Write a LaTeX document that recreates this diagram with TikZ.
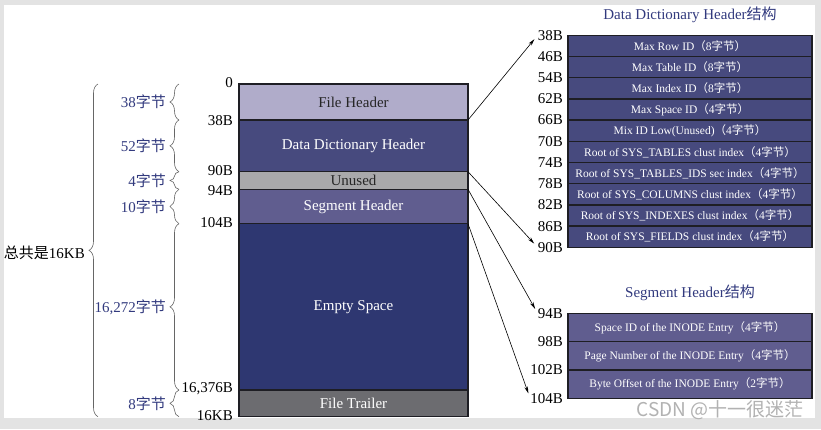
\documentclass[tikz,border=0pt]{standalone}
\usepackage{fontspec}
\setmainfont{Liberation Serif}
\newfontfamily\cjk{Noto Sans CJK SC}
\usetikzlibrary{positioning,arrows.meta,decorations.pathreplacing}

\definecolor{fhcol}{HTML}{B0ACCA}
\definecolor{ddcol}{HTML}{474A7E}
\definecolor{uncol}{HTML}{A9A9AB}
\definecolor{sgcol}{HTML}{605D8F}
\definecolor{escol}{HTML}{2E3771}
\definecolor{ftcol}{HTML}{6C6C70}
\definecolor{txtblue}{HTML}{323A7E}
\definecolor{edgecol}{HTML}{1E1E24}

% (n字节)
\newcommand\zj[1]{{\cjk （}#1{\cjk 字节）}}

\begin{document}
\begin{tikzpicture}[x=1pt,y=-1pt,
    blk/.style={draw=edgecol,line width=1.3pt,minimum width=229pt,inner sep=0pt,outer sep=0pt,font=\fontsize{15}{18}\selectfont},
    row/.style={draw=edgecol,line width=1.3pt,minimum width=244pt,inner sep=0pt,outer sep=0pt,text=white,anchor=north west,font=\fontsize{11.5}{14}\selectfont},
    offs/.style={anchor=east,inner sep=0pt,font=\fontsize{15}{18}\selectfont},
    cnt/.style={anchor=east,inner sep=0pt,text=txtblue,font=\fontsize{15}{18}\selectfont},
    ttl/.style={inner sep=0pt,text=txtblue,font=\fontsize{15}{18}\selectfont},
    brc/.style={decorate,decoration={brace,amplitude=9pt},draw=gray!80!black,line width=0.6pt},
    ptr/.style={-{Stealth[length=7pt,width=3.5pt]},line width=0.6pt,shorten >=5pt}]
    \useasboundingbox (0,0) rectangle (821,429);
    % Rahmen
    \fill[gray!22] (0,0) rectangle (821,429);
    \fill[white] (4,5) rectangle (815,418);

    % Seite (16KB)
    \node[blk,fill=fhcol,text=black!85,minimum height=36pt,anchor=north west] (fh) at (239,84) {File Header};
    \node[blk,fill=ddcol,text=white,minimum height=51.7pt,below=0pt of fh] (dd) {Data Dictionary Header};
    \node[blk,fill=uncol,text=black!85,minimum height=17.6pt,below=0pt of dd] (un) {Unused};
    \node[blk,fill=sgcol,text=white,minimum height=34.4pt,below=0pt of un] (sg) {Segment Header};
    \node[blk,fill=escol,text=white,minimum height=166.3pt,below=0pt of sg] (es) {Empty Space};
    \node[blk,fill=ftcol,text=white,minimum height=26.7pt,below=0pt of es] (ft) {File Trailer};

    % Offsets
    \node[offs] (o0) at (233,83) {0};
    \node[offs] (o38) at (233,120.5) {38B};
    \node[offs] (o90) at (233,170.7) {90B};
    \node[offs] (o94) at (233,190.5) {94B};
    \node[offs] (o104) at (233,222.7) {104B};
    \node[offs] (o16376) at (233,389) {16,376B};
    \node[offs] (o16k) at (233,416) {16KB};

    % Klammern
    \foreach \ya/\yb/\n [count=\k] in {84/120/38, 120/171.7/52, 171.7/189.3/4, 189.3/223.7/10, 223.7/390/{16,272}, 390/416.7/8} {
        \draw[brc] (179,\yb) -- (179,\ya);
        \node[cnt] (bl\k) at (166,{(\ya+\yb)/2}) {\n{\cjk 字节}};
    }
    \draw[brc] (98,416.7) -- (98,84);
    \node[offs] (tot) at (85,252.7) {{\cjk 总共是}16KB};

    % Data Dictionary Header
    \node[ttl] (ddt) at (690,15) {Data Dictionary Header{\cjk 结构}};
    \foreach \t [count=\i from 0] in {{Max Row ID\zj{8}}, {Max Table ID\zj{8}}, {Max Index ID\zj{8}}, {Max Space ID\zj{4}}, {Mix ID Low(Unused)\zj{4}}, {Root of SYS\_TABLES clust index\zj{4}}, {Root of SYS\_TABLES\_IDS sec index\zj{4}}, {Root of SYS\_COLUMNS clust index\zj{4}}, {Root of SYS\_INDEXES clust index\zj{4}}, {Root of SYS\_FIELDS clust index\zj{4}}}
        \node[row,fill=ddcol,minimum height=21.2pt] (ddr\i) at (568,{35.3+21.2*\i}) {\t};
    \foreach \t [count=\i from 0] in {38B,46B,54B,62B,66B,70B,74B,78B,82B,86B,90B}
        \node[offs] (ddl\i) at (563,{35.3+21.2*\i}) {\t};

    % Segment Header
    \node[ttl] (sgt) at (690,292.7) {Segment Header{\cjk 结构}};
    \foreach \t [count=\i from 0] in {{Space ID of the INODE Entry\zj{4}}, {Page Number of the INODE Entry\zj{4}}, {Byte Offset of the INODE Entry\zj{2}}}
        \node[row,fill=sgcol,minimum height=28.3pt] (sgr\i) at (568,{313.3+28.3*\i}) {\t};
    \foreach \t [count=\i from 0] in {94B,98B,102B,104B}
        \node[offs] (sgl\i) at (563,{313.3+28.3*\i}) {\t};

    % Pfeile
    \draw[ptr] (fh.south east) -- (ddl0.west);
    \draw[ptr] (dd.south east) -- (ddl10.west);
    \draw[ptr] (un.south east) -- (sgl0.west);
    \draw[ptr] (sg.south east) -- (sgl3.west);

    \node[text=gray!60,inner sep=0pt,font=\cjk\fontsize{19}{21}\selectfont] (wm) at (720,410) {CSDN @十一很迷茫};
\end{tikzpicture}
\end{document}
